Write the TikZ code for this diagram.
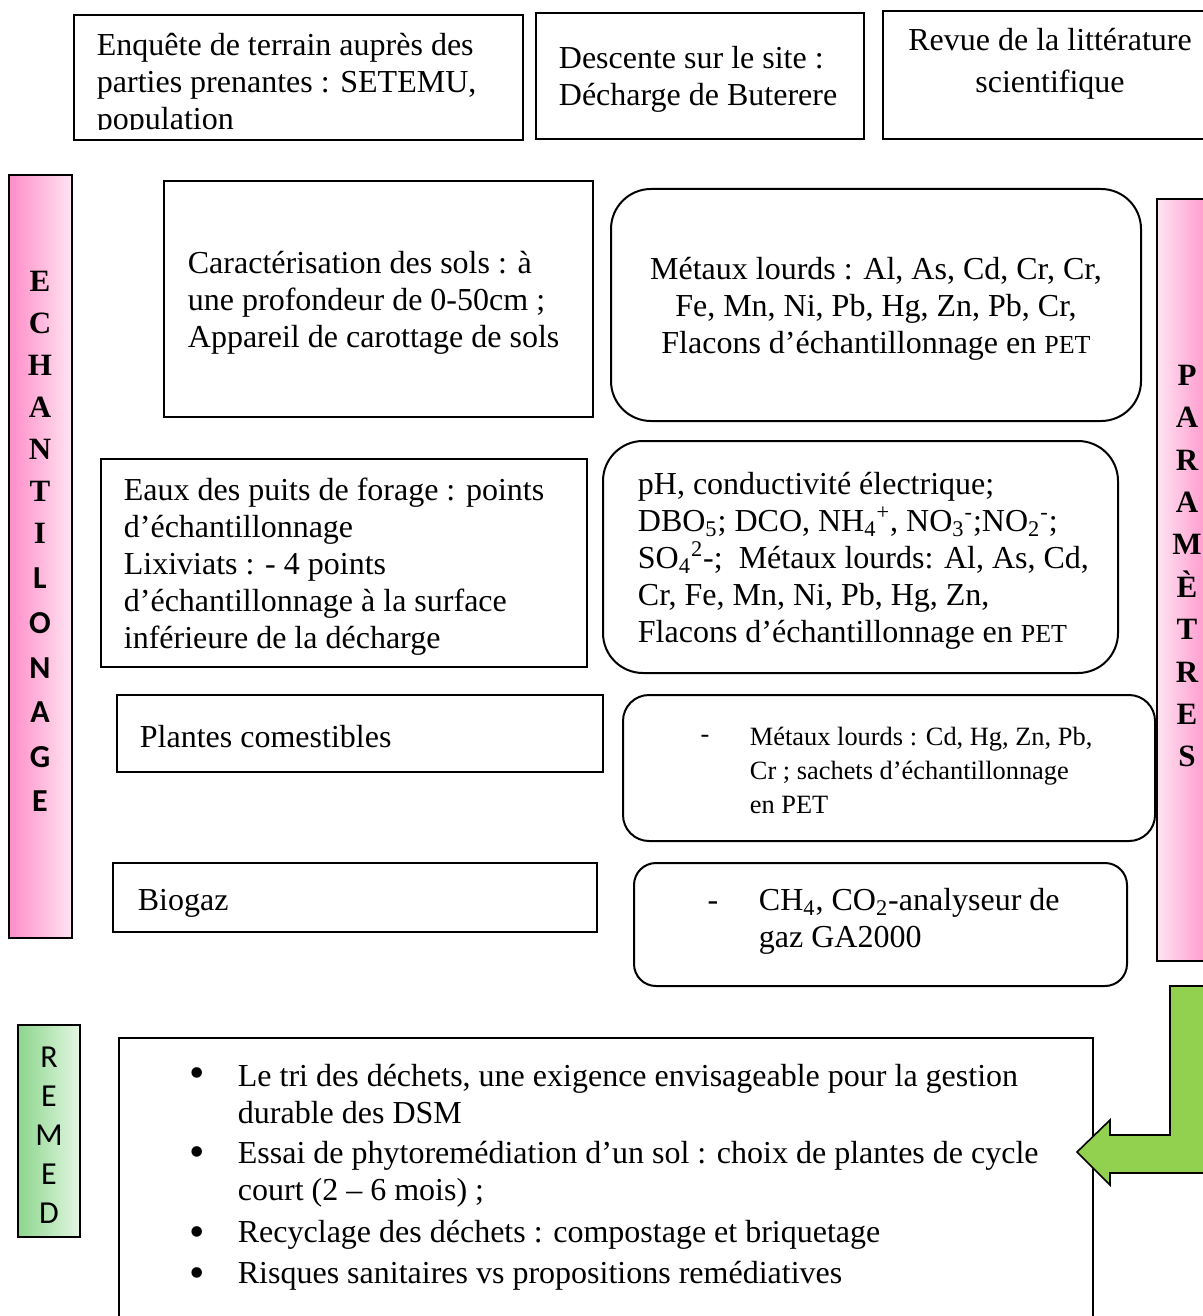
\documentclass[tikz,border=0pt]{standalone}
\usepackage{fontspec}
\setmainfont{Liberation Serif}
\newfontfamily\calibri{Carlito}
\usepackage{tikz}
\setlength{\lineskiplimit}{-6pt}

\definecolor{pinkdark}{RGB}{255,140,200}
\definecolor{pinklight}{RGB}{255,228,242}
\definecolor{greendark}{RGB}{140,214,140}
\definecolor{greenlight}{RGB}{228,246,228}
\definecolor{arrowgreen}{RGB}{146,208,80}

\begin{document}
\begin{tikzpicture}[x=0.5pt,y=0.5pt,yscale=-1,xscale=1,
  box/.style={line width=1pt},
  txt/.style={inner sep=0.75pt,align=left,font=\fontsize{16}{18.5}\selectfont},
  smalltxt/.style={inner sep=0.75pt,align=left,font=\fontsize{13.2}{17}\selectfont},
  bullet/.style={inner sep=0pt,font=\fontsize{22}{22}\selectfont},
  barletters/.style={inner sep=0.75pt,align=center}]
\useasboundingbox (0,0) rectangle (1203,1316);

%Shape: Rectangle (top row)
\draw [box] (74,15) rectangle (523,140) ;
\draw [box] (536,13) rectangle (864,139) ;
\draw [box] (883,11) rectangle (1215,139) ;

% Text Node
\begin{scope}
\clip (74,15) rectangle (523,130) ;
\draw (95,85) node [anchor=west][txt] (enq) {Enquête de terrain auprès des\\parties prenantes : SETEMU,\\population};
\end{scope}
% Text Node
\draw (557,79) node [anchor=west][txt] (desc) {Descente sur le site :\\Décharge de Buterere};
% Text Node
\draw (1050,64) node [txt,align=center,font=\fontsize{16}{21}\selectfont] (revue) {Revue de la littérature\\scientifique};

%Shape: Rectangle (echantillonage bar)
\draw [box,left color=pinkdark,right color=pinklight] (9,175) rectangle (72,938) ;
% Text Node
\draw (40,407) node [barletters,font=\fontsize{15.5}{21}\selectfont\bfseries] (echant) {E\\C\\H\\A\\N\\T\\I};
% Text Node
\draw (40,690) node [barletters,font=\calibri\fontsize{16}{22.3}\selectfont\bfseries] (lonage) {L\\O\\N\\A\\G\\E};

%Shape: Rectangle (parametres bar)
\draw [box,left color=pinklight,right color=pinkdark] (1157,199) rectangle (1215,961) ;
% Text Node
\draw (1187,566) node [barletters,font=\fontsize{15.5}{21.2}\selectfont\bfseries] (param) {P\\A\\R\\A\\M\\È\\T\\R\\E\\S};

%Shape: Rectangle (sols)
\draw [box] (164,181) rectangle (593,417) ;
% Text Node
\draw (186,303) node [anchor=west][txt] (carac) {Caractérisation des sols : à\\une profondeur de 0-50cm ;\\Appareil de carottage de sols};

%Rounded Rect (metaux)
\draw [box,rounded corners=20pt] (611,189) rectangle (1141,421) ;
% Text Node
\draw (876,309) node [txt,align=center] (metaux) {Métaux lourds : Al, As, Cd, Cr, Cr,\\Fe, Mn, Ni, Pb, Hg, Zn, Pb, Cr,\\Flacons d’échantillonnage en {\fontsize{13}{15}\selectfont PET}};

%Shape: Rectangle (eaux)
\draw [box] (101,459) rectangle (587,667) ;
% Text Node
\draw (122,567) node [anchor=west][txt] (eaux) {Eaux des puits de forage : points\\d’échantillonnage\\Lixiviats : - 4 points\\d’échantillonnage à la surface\\inférieure de la décharge};

%Rounded Rect (ph)
\draw [box,rounded corners=20pt] (603,441) rectangle (1118,673) ;
% Text Node
\draw (636,561) node [anchor=west][txt] (ph) {pH, conductivité électrique;\\DBO\textsubscript{5}; DCO, NH\textsubscript{4}\textsuperscript{+}, NO\textsubscript{3}\textsuperscript{-};NO\textsubscript{2}\textsuperscript{-};\\SO\textsubscript{4}\textsuperscript{2}-;~ Métaux lourds: Al, As, Cd,\\Cr, Fe, Mn, Ni, Pb, Hg, Zn,\\Flacons d’échantillonnage en {\fontsize{13}{15}\selectfont PET}};

%Shape: Rectangle (plantes)
\draw [box] (117,695) rectangle (603,772) ;
% Text Node
\draw (138,737) node [anchor=west][txt] (plantes) {Plantes comestibles};

%Rounded Rect (metaux plantes)
\draw [box,rounded corners=13pt] (623,695) rectangle (1155,841) ;
% Text Node
\draw (705,739) node [smalltxt] (dashpl) {-};
% Text Node
\draw (748,770) node [anchor=west][smalltxt] (metpl) {Métaux lourds : Cd, Hg, Zn, Pb,\\Cr ; sachets d’échantillonnage\\en PET};

%Shape: Rectangle (biogaz)
\draw [box] (113,863) rectangle (597,932) ;
% Text Node
\draw (136,903) node [anchor=west][txt] (biogaz) {Biogaz};

%Rounded Rect (gaz)
\draw [box,rounded corners=11pt] (634,863) rectangle (1127,986) ;
% Text Node
\draw (713,906) node [txt] (dashgaz) {-};
% Text Node
\draw (757,921) node [anchor=west][txt] (gaz) {CH\textsubscript{4}, CO\textsubscript{2}-analyseur de\\gaz GA2000};

%Shape: Rectangle (remed bar)
\draw [box,left color=greendark,right color=greenlight] (18,1025) rectangle (80,1237) ;
% Text Node
\draw (49,1135) node [barletters,font=\calibri\fontsize{16}{19.5}\selectfont] (remed) {R\\E\\M\\E\\D};

%Shape: Rectangle (remediation)
\draw [box] (119,1038) rectangle (1093,1330) ;
% Text Node
\draw (197,1078) node [bullet] (b1) {\textbullet};
\draw (236,1094) node [anchor=west][txt] (it1) {Le tri des déchets, une exigence envisageable pour la gestion\\durable des DSM};
% Text Node
\draw (197,1157) node [bullet] (b2) {\textbullet};
\draw (236,1174) node [anchor=west][txt] (it2) {Essai de phytoremédiation d’un sol : choix de plantes de cycle\\court (2 – 6 mois) ;};
% Text Node
\draw (197,1237) node [bullet] (b3) {\textbullet};
\draw (236,1235) node [anchor=west][txt] (it3) {Recyclage des déchets : compostage et briquetage};
% Text Node
\draw (197,1278) node [bullet] (b4) {\textbullet};
\draw (236,1276) node [anchor=west][txt] (it4) {Risques sanitaires vs propositions remédiatives};

%Shape: Bent Arrow
\draw [line width=0.8pt,fill=arrowgreen] (1170,986) -- (1210,986) -- (1210,1173) -- (1110,1173) -- (1110,1185) -- (1077,1152) -- (1110,1120) -- (1110,1135) -- (1170,1135) -- cycle ;

\end{tikzpicture}
\end{document}
